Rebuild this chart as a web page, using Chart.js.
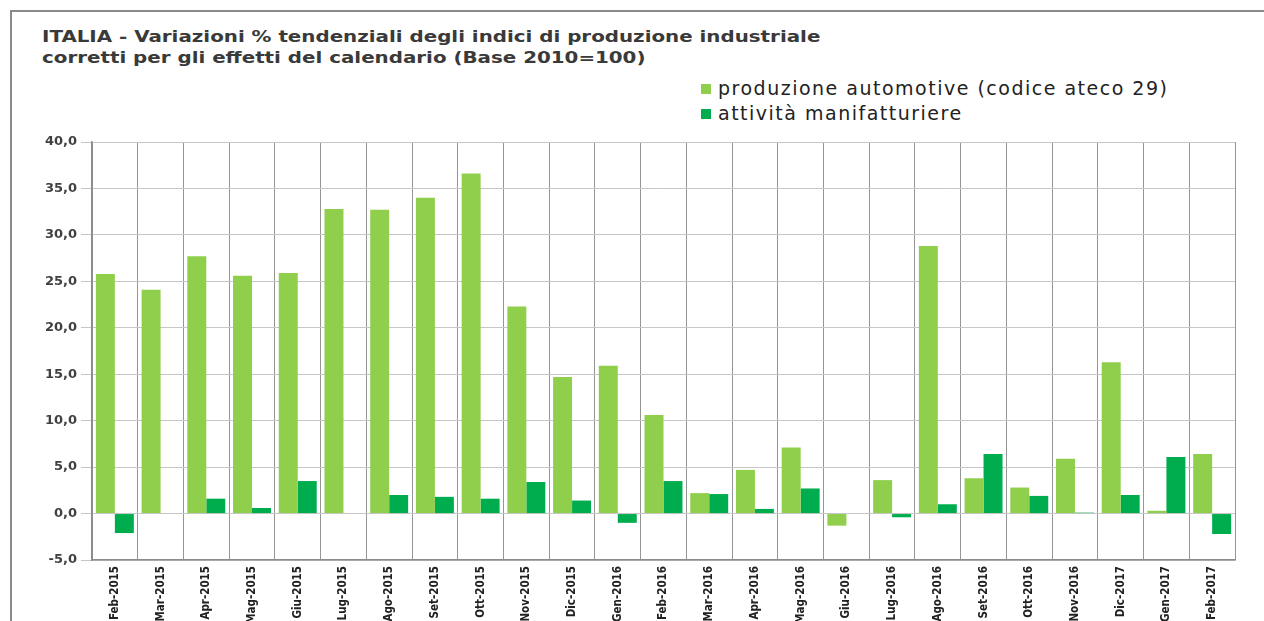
<!DOCTYPE html>
<html lang="it">

<head>
    <meta charset="UTF-8">
    <title>ITALIA - Variazioni % tendenziali produzione industriale</title>
    <script src="https://cdn.jsdelivr.net/npm/chart.js"></script>
    <style>
        body {
            margin: 0;
            background: #fff;
            width: 1264px;
            height: 621px;
            overflow: hidden;
            position: relative;
            font-family: 'DejaVu Sans', sans-serif;
        }

        .cornice {
            position: absolute;
            left: 10px;
            top: 10px;
            width: 1270px;
            height: 620px;
            border-left: 2px solid #8a8a8a;
            border-top: 2px solid #8a8a8a;
        }

        .titolo {
            position: absolute;
            left: 42px;
            top: 26px;
            font-size: 16px;
            font-weight: bold;
            line-height: 21px;
            color: #3a3a3a;
            white-space: nowrap;
            transform: scaleX(1.24);
            transform-origin: left top;
        }

        #legenda {
            position: absolute;
            left: 701px;
            top: 76px;
            font-size: 19px;
            letter-spacing: 1.5px;
            color: #222;
        }

        .voce {
            height: 25px;
            line-height: 25px;
            white-space: nowrap;
        }

        .quadrato {
            display: inline-block;
            width: 10px;
            height: 10px;
            margin-right: 7px;
            vertical-align: 1px;
        }

        #grafico-container {
            position: absolute;
            left: 0;
            top: 130px;
            width: 1264px;
            height: 491px;
        }
    </style>
</head>

<body>
    <div class="cornice"></div>
    <div class="titolo">
        ITALIA - Variazioni % tendenziali degli indici di produzione industriale<br>
        corretti per gli effetti del calendario (Base 2010=100)
    </div>
    <div id="legenda"></div>
    <div id="grafico-container">
        <canvas id="grafico"></canvas>
    </div>

    <script>
        // dati
        const mesi = ['Feb-2015', 'Mar-2015', 'Apr-2015', 'Mag-2015', 'Giu-2015', 'Lug-2015', 'Ago-2015',
            'Set-2015', 'Ott-2015', 'Nov-2015', 'Dic-2015', 'Gen-2016', 'Feb-2016', 'Mar-2016', 'Apr-2016',
            'Mag-2016', 'Giu-2016', 'Lug-2016', 'Ago-2016', 'Set-2016', 'Ott-2016', 'Nov-2016', 'Dic-2017',
            'Gen-2017', 'Feb-2017'];

        const automotive = [25.8, 24.1, 27.7, 25.6, 25.9, 32.8, 32.7, 34.0, 36.6, 22.3, 14.7, 15.9, 10.6,
            2.2, 4.7, 7.1, -1.3, 3.6, 28.8, 3.8, 2.8, 5.9, 16.3, 0.3, 6.4];

        const manifatturiere = [-2.1, 0, 1.6, 0.6, 3.5, 0, 2.0, 1.8, 1.6, 3.4, 1.4, -1.0, 3.5,
            2.1, 0.5, 2.7, 0, -0.4, 1.0, 6.4, 1.9, 0.1, 2.0, 6.1, -2.2];

        const etichette = ['produzione automotive (codice ateco 29)', 'attività manifatturiere'];
        const asseYMin = -5;
        const asseYMax = 40;
        const asseYPasso = 5;

        const ctx = document.getElementById('grafico').getContext('2d');
        const chart = new Chart(ctx, {
            type: 'bar',
            data: {
                labels: mesi,
                datasets: [{
                    label: etichette[0],
                    data: automotive,
                    backgroundColor: '#8fcf4c'
                }, {
                    label: etichette[1],
                    data: manifatturiere,
                    backgroundColor: '#00ad4e'
                }]
            },
            options: {
                responsive: true,
                maintainAspectRatio: false,
                animation: false,
                layout: {
                    padding: { top: 12, right: 29, left: 0, bottom: 0 }
                },
                datasets: {
                    bar: {
                        categoryPercentage: 0.83,
                        barPercentage: 1.0
                    }
                },
                plugins: {
                    legend: { display: false },
                    tooltip: { enabled: false }
                },
                scales: {
                    x: {
                        afterFit: scale => { scale.height = 61; },
                        grid: {
                            color: '#959595',
                            offset: true,
                            drawTicks: false
                        },
                        border: { color: '#8a8a8a', width: 1.5 },
                        ticks: {
                            autoSkip: false,
                            maxRotation: 90,
                            minRotation: 90,
                            padding: 6,
                            color: '#222',
                            font: { family: 'DejaVu Sans Condensed', size: 11.5, weight: 'bold' }
                        }
                    },
                    y: {
                        min: asseYMin,
                        max: asseYMax,
                        afterFit: scale => { scale.width = 92; },
                        grid: {
                            color: '#c6c6c6',
                            tickLength: 11
                        },
                        border: { color: '#8a8a8a', width: 1.5 },
                        ticks: {
                            stepSize: asseYPasso,
                            padding: 4,
                            color: '#404040',
                            font: { family: 'DejaVu Sans', size: 13, weight: 'bold' },
                            callback: v => v.toFixed(1).replace('.', ',')
                        }
                    }
                }
            }
        });

        // legenda in html costruita dai dataset del grafico
        const legenda = document.getElementById('legenda');
        chart.data.datasets.forEach(ds => {
            const voce = document.createElement('div');
            voce.className = 'voce';
            voce.innerHTML = '<span class="quadrato" style="background:' + ds.backgroundColor + '"></span>' + ds.label;
            legenda.appendChild(voce);
        });
    </script>
</body>

</html>
